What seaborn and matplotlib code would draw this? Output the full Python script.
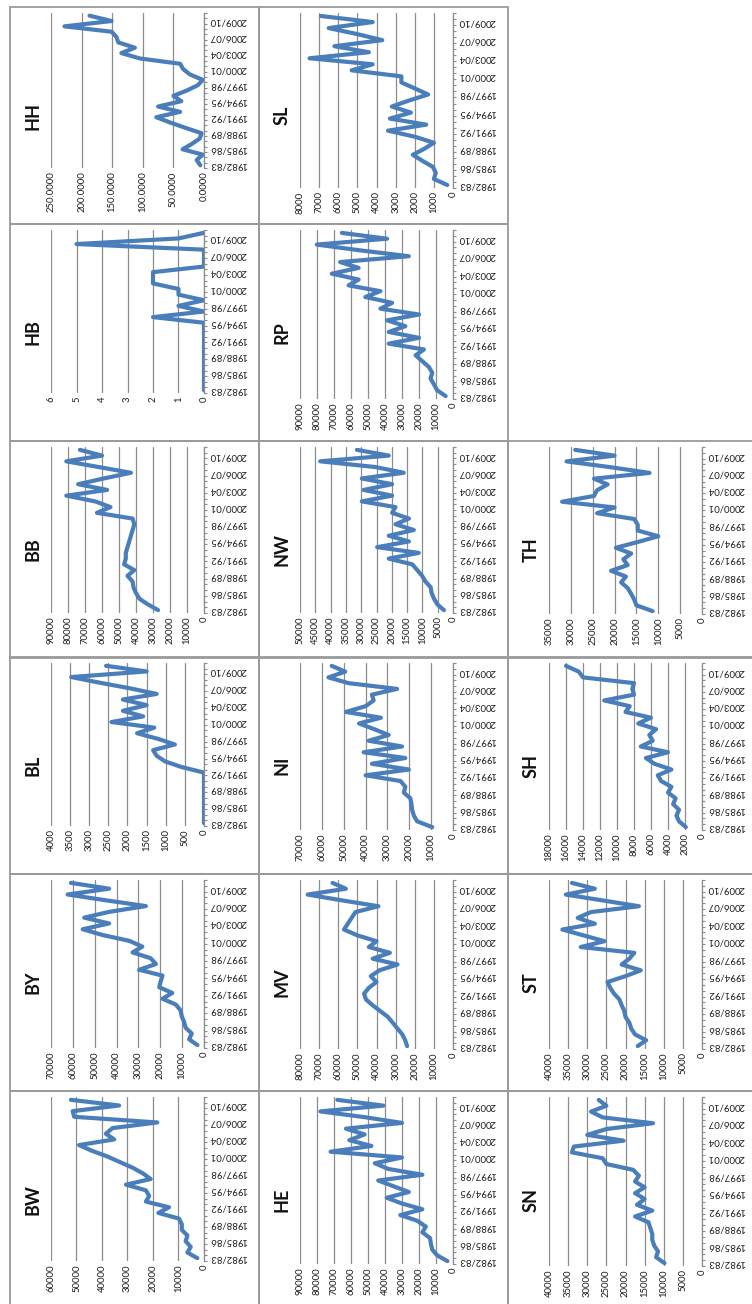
import numpy as np
import pandas as pd
import matplotlib
matplotlib.use("Agg")
import matplotlib.pyplot as plt
from matplotlib import font_manager
from matplotlib.patches import Rectangle
import seaborn as sns

# Academic years on the category axis
years = ["1982/83", "1983/84", "1984/85", "1985/86", "1986/87", "1987/88",
         "1988/89", "1989/90", "1990/91", "1991/92", "1992/93", "1993/94",
         "1994/95", "1995/96", "1996/97", "1997/98", "1998/99", "1999/00",
         "2000/01", "2001/02", "2002/03", "2003/04", "2004/05", "2005/06",
         "2006/07", "2007/08", "2008/09", "2009/10", "2010/11"]

BW = [2600, 6500, 5200, 7200, 6500, 8700, 8700, 9800, 17900, 13700, 22800, 21500, 22800, 30600, 20900,
      24000, 28000, 33000, 38000, 44000, 49000, 35200, 38500, 35900, 18300, 50900, 51500, 33300, 52200]
BY = [3000, 6800, 5600, 8400, 9100, 10200, 10700, 12900, 19000, 14500, 20500, 19800, 19000, 29700, 22000,
      24400, 32700, 28200, 34200, 46400, 55500, 43400, 54800, 43400, 26600, 45000, 62400, 43400, 60900]
BL = [0, 0, 0, 0, 0, 0, 0, 0, 0, 0, 590, 1020, 1240, 1330, 760, 1200, 1750, 1300, 2420, 1590,
      2120, 1500, 2120, 1240, 1940, 2730, 3470, 1500, 2560]
BB = [27000, 33000, 38000, 40000, 41500, 42000, 45000, 41000, 47000, 46000, 46000, 45000, 44000, 43000, 42000,
      41000, 42000, 63000, 55000, 64000, 81000, 57000, 74000, 59000, 43000, 62000, 81000, 60000, 73000]
HB = [0, 0, 0, 0, 0, 0, 0, 0, 0, 0, 0, 0, 0, 2, 0, 1, 0, 1, 1, 2, 2, 2, 0, 0, 0, 0, 5, 1, 0]
HH = [6, 12, 2, 35, 20, 7, 4, 30, 55, 78, 39, 75, 37, 50, 28, 10, 2, 23, 34, 39,
      105, 135, 113, 140, 143, 151, 228, 151, 187]
HE = [3300, 9300, 12200, 13000, 13500, 18000, 16000, 21000, 31000, 18000, 30000, 39000, 26000, 35000, 44000,
      18000, 38000, 46000, 30000, 72000, 48000, 61000, 52000, 63000, 30000, 52000, 78000, 41000, 68000]
MV = [24000, 25000, 26500, 29000, 31500, 34000, 38000, 42000, 45500, 46500, 44000, 40000, 43000, 38500, 29000,
      42000, 33000, 44000, 40000, 50000, 57000, 55000, 53000, 51000, 39000, 58000, 76000, 56000, 63000]
NI = [9500, 16400, 17900, 18700, 19000, 19500, 22500, 21800, 24000, 40000, 20200, 37100, 21800, 40900, 23300,
      38600, 29400, 36000, 43000, 33000, 49000, 40000, 36300, 37100, 25600, 47800, 57000, 49300, 55500]
NW = [2950, 5100, 6200, 7000, 7300, 9000, 10100, 11700, 13300, 21000, 11200, 24800, 14400, 21000, 12800,
      18800, 14400, 19900, 18800, 29800, 19900, 29200, 19900, 29800, 16100, 25400, 43400, 21000, 31400]
RP = [4300, 9300, 11200, 13200, 12200, 14200, 18100, 22000, 17100, 37800, 20000, 37800, 28000, 38800, 20000,
      42700, 35800, 51600, 42700, 61400, 55500, 71300, 55500, 66400, 26000, 54500, 80100, 38800, 65400]
SL = [300, 1000, 900, 1050, 1600, 2100, 1500, 1000, 2000, 3400, 1400, 3300, 2200, 3200, 2300,
      1300, 2000, 2700, 2700, 5300, 4200, 7500, 4400, 6200, 3700, 5000, 6500, 4200, 6900]
SN = [9800, 12000, 11500, 12500, 13000, 13000, 13500, 14000, 17500, 13000, 17000, 15000, 17500, 15000, 17500,
      16500, 18000, 25000, 26000, 34000, 33500, 20500, 30000, 25000, 12800, 26000, 29000, 25000, 27000]
ST = [16800, 14600, 17500, 18500, 19000, 20000, 20300, 21000, 21600, 23000, 24000, 24700, 20000, 16000, 21000,
      19000, 17700, 31700, 25500, 31000, 36500, 28000, 32500, 29000, 16500, 26000, 35600, 28000, 34000]
SH = [1900, 2700, 3000, 2700, 3400, 3100, 4000, 3600, 4800, 5200, 3600, 5600, 6600, 4000, 7200,
      5800, 6200, 5400, 7500, 6000, 9000, 8500, 11500, 8000, 8200, 8000, 14000, 14500, 16000]
TH = [11300, 15000, 15500, 16200, 17000, 18500, 17400, 20800, 17000, 18000, 16200, 19700, 14700, 10000, 14700,
      14700, 15500, 24000, 20000, 32000, 24700, 24000, 21600, 24700, 12000, 21000, 31000, 20000, 29000]

BLUE = "#4A7EBB"
GRID = "#8C8C8C"
FRAME = "#9A9A9A"

sns.set_theme(style="white")
names = {f.name for f in font_manager.fontManager.ttflist}
base_font = "Liberation Sans Narrow" if "Liberation Sans Narrow" in names else "Lato"
plt.rcParams["font.family"] = [base_font, "DejaVu Sans"]

W, H = 752, 1304
COL_X = [10, 259, 508]
ROW_Y = [7, 224, 441, 657, 874, 1091]
PW, PH = 249, 217

# name, column, row, axis max, major unit, label format, plot bottom (px inside panel)
layout = [
    ("HH", 0, 0, 250, 50, "{:.4f}", 161, HH),
    ("HB", 0, 1, 6, 1, "{:.0f}", 169, HB),
    ("BB", 0, 2, 90000, 10000, "{:.0f}", 172, BB),
    ("BL", 0, 3, 4000, 500, "{:.0f}", 169, BL),
    ("BY", 0, 4, 70000, 10000, "{:.0f}", 174, BY),
    ("BW", 0, 5, 60000, 10000, "{:.0f}", 170, BW),
    ("SL", 1, 0, 8000, 1000, "{:.0f}", 181, SL),
    ("RP", 1, 1, 90000, 10000, "{:.0f}", 175, RP),
    ("NW", 1, 2, 50000, 5000, "{:.0f}", 172, NW),
    ("NI", 1, 3, 70000, 10000, "{:.0f}", 173, NI),
    ("MV", 1, 4, 80000, 10000, "{:.0f}", 175, MV),
    ("HE", 1, 5, 90000, 10000, "{:.0f}", 173, HE),
    ("TH", 2, 2, 35000, 5000, "{:.0f}", 173, TH),
    ("SH", 2, 3, 18000, 2000, "{:.0f}", 173, SH),
    ("ST", 2, 4, 40000, 5000, "{:.0f}", 175, ST),
    ("SN", 2, 5, 40000, 5000, "{:.0f}", 175, SN),
]

fig = plt.figure(figsize=(W / 100, H / 100), dpi=100)
fig.patch.set_facecolor("white")


def frac(x, y, w, h):
    """Pixel box with a top-left origin -> figure fraction rectangle."""
    return [x / W, 1 - (y + h) / H, w / W, h / H]


n = len(years)
pos = np.arange(n)

for name, col, row, vmax, vstep, fmt, pbottom, values in layout:
    px, py = COL_X[col], ROW_Y[row]
    fig.patches.append(Rectangle((px / W, 1 - (py + PH) / H), PW / W, PH / H,
                                 transform=fig.transFigure, fill=False,
                                 edgecolor=FRAME, linewidth=1.3, zorder=0))
    ptop = 6
    ax = fig.add_axes(frac(px + 41, py + ptop, 153, pbottom - ptop))
    df = pd.DataFrame({"value": values, "pos": pos})
    sns.lineplot(data=df, x="value", y="pos", sort=False, estimator=None,
                 color=BLUE, linewidth=3.0, ax=ax, legend=False)
    # value axis runs right-to-left, categories sit between tick marks
    ax.set_xlim(vmax, 0)
    ax.set_ylim(-0.5, n - 0.5)

    ticks = np.arange(0, vmax + vstep / 2, vstep)
    ax.set_xticks(ticks)
    ax.set_xticklabels([fmt.format(t) for t in ticks], rotation=90,
                       fontsize=6.8, color="#1a1a1a")
    ax.tick_params(axis="x", length=0, pad=2.5)
    ax.xaxis.grid(True, color=GRID, linewidth=0.9)
    ax.yaxis.grid(False)

    ax.yaxis.tick_right()
    ax.set_yticks(pos[::3])
    ax.set_yticklabels(years[::3], rotation=180, fontsize=6.8, color="#1a1a1a",
                       va="center")
    ax.set_yticks(np.arange(-0.5, n), minor=True)
    ax.tick_params(axis="y", which="major", length=0, pad=4.0)
    ax.tick_params(axis="y", which="minor", length=2.5, width=0.8,
                   color=GRID, direction="out")
    ax.set_xlabel("")
    ax.set_ylabel("")
    for side in ["top", "bottom", "left"]:
        ax.spines[side].set_visible(False)
    ax.spines["right"].set_color(GRID)
    ax.spines["right"].set_linewidth(0.9)
    ax.set_facecolor("none")

    fig.text((px + 23) / W, 1 - (py + PH / 2) / H, name, rotation=90,
             ha="center", va="center", fontsize=13, fontweight="bold",
             color="#111111")

fig.savefig("out.png", dpi=100, facecolor="white")
